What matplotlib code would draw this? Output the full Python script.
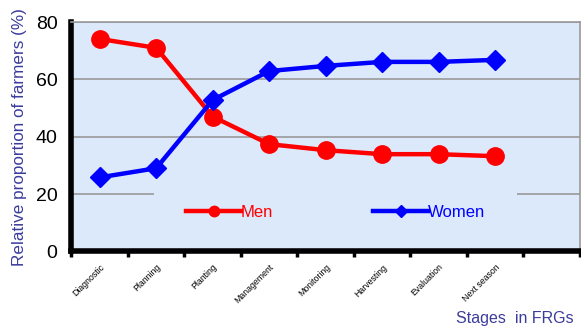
import matplotlib
matplotlib.use("Agg")
import matplotlib.pyplot as plt
import numpy as np

plt.rcParams['font.family'] = ['Liberation Sans', 'DejaVu Sans']

stages = ["Diagnostic", "Planning", "Planting", "Management",
          "Monitoring", "Harvesting", "Evaluation", "Next season"]
men = [74.1, 71.0, 47.0, 37.4, 35.3, 33.9, 33.9, 33.2]
women = [25.8, 29.0, 52.8, 62.9, 64.7, 66.1, 66.1, 66.8]
y_ticks = [0, 20, 40, 60, 80]

bg = "#dce9fb"
label_blue = "#3c3c9c"

fig = plt.figure(figsize=(5.81, 3.29), dpi=100)
ax = fig.add_axes([0.123, 0.236, 0.875, 0.697])
ax.set_facecolor(bg)

x = np.arange(len(stages)) + 0.5
ax.plot(x, men, color="#ff0000", lw=3.2, marker="o", ms=12.5, label="Men", zorder=4)
ax.plot(x, women, color="#0000ff", lw=3.2, marker="D", ms=10.5, label="Women", zorder=4)

ax.set_xlim(0, len(stages) + 1)
ax.set_ylim(0, 80)

# category boundaries as tick marks, names centred between them
ax.set_xticks(np.arange(0, len(stages) + 2))
ax.set_xticklabels([])
ax.set_xticks(x, minor=True)
ax.set_xticklabels(stages, minor=True, rotation=45, ha="right", va="top",
                   rotation_mode="anchor", fontsize=6.3)
ax.tick_params(axis="x", which="major", length=4, width=2.5, direction="out", color="black")
ax.tick_params(axis="x", which="minor", length=0, pad=8)

ax.set_yticks(y_ticks)
ax.set_yticklabels([str(v) for v in y_ticks], fontsize=14)
ax.tick_params(axis="y", length=0, pad=10)

ax.yaxis.grid(True, color="#999999", lw=1.2)
ax.set_axisbelow(True)

for side in ("left", "bottom"):
    ax.spines[side].set_linewidth(4)
    ax.spines[side].set_color("black")
for side in ("top", "right"):
    ax.spines[side].set_linewidth(1.2)
    ax.spines[side].set_color("#999999")

ax.set_ylabel("Relative proportion of farmers (%)", color=label_blue, fontsize=12.3, labelpad=6)

leg = ax.legend(loc="center", bbox_to_anchor=(0.52, 0.17), ncol=2, frameon=True,
                fontsize=12, handlelength=3.3, handletextpad=0.0, columnspacing=6.0,
                borderpad=1.9, fancybox=False, markerscale=0.6)
leg.get_frame().set_facecolor(bg)
leg.get_frame().set_edgecolor("none")
leg.get_frame().set_alpha(1)
leg.set_zorder(2)  # above the grid, beneath the spines
for txt, c in zip(leg.get_texts(), ["#ff0000", "#0000ff"]):
    txt.set_color(c)

fig.text(0.988, 0.01, "Stages  in FRGs", color=label_blue, fontsize=11.5,
         ha="right", va="bottom")

fig.savefig("out.png", dpi=100)
